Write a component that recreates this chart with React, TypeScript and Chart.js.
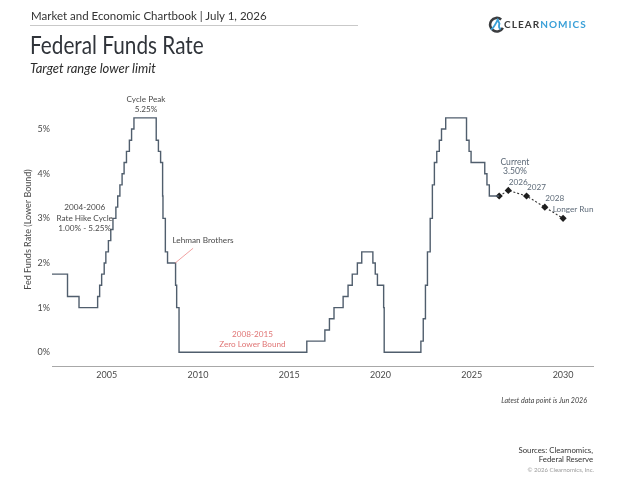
import React, { useEffect, useRef } from "react";
import { Chart, registerables } from "chart.js";

Chart.register(...registerables);

// ---------- Data ----------
// Fed funds target range lower bound: change dates (decimal years) and new levels (%)
const RATE_DATES = [
  2002.0, 2002.85, 2003.48, 2004.5, 2004.61, 2004.72, 2004.86, 2004.95, 2005.09, 2005.22,
  2005.34, 2005.5, 2005.6, 2005.72, 2005.84, 2005.95, 2006.08, 2006.24, 2006.36, 2006.49,
  2007.71, 2007.83, 2007.95, 2008.06, 2008.08, 2008.21, 2008.33, 2008.77, 2008.83, 2008.96,
  2015.96, 2016.95, 2017.2, 2017.45, 2017.95, 2018.22, 2018.45, 2018.73, 2018.97, 2019.58,
  2019.71, 2019.83, 2020.17, 2020.2, 2022.21, 2022.34, 2022.46, 2022.57, 2022.72, 2022.84,
  2022.95, 2023.08, 2023.22, 2023.34, 2023.57, 2024.71, 2024.85, 2024.96, 2025.71, 2025.83,
  2025.96, 2026.5,
];
const RATE_VALUES = [
  1.75, 1.25, 1.0, 1.25, 1.5, 1.75, 2.0, 2.25, 2.5, 2.75,
  3.0, 3.25, 3.5, 3.75, 4.0, 4.25, 4.5, 4.75, 5.0, 5.25,
  4.75, 4.5, 4.25, 3.5, 3.0, 2.25, 2.0, 1.5, 1.0, 0.0,
  0.25, 0.5, 0.75, 1.0, 1.25, 1.5, 1.75, 2.0, 2.25, 2.0,
  1.75, 1.5, 1.0, 0.0, 0.25, 0.75, 1.5, 2.25, 3.0, 3.75,
  4.25, 4.5, 4.75, 5.0, 5.25, 4.75, 4.5, 4.25, 4.0, 3.75,
  3.5, 3.5,
];
// Current level and projections
const PROJ_DATES = [2026.5, 2027.0, 2028.0, 2029.0, 2030.0];
const PROJ_VALUES = [3.5, 3.625, 3.5, 3.25, 3.0];
const PROJ_LABELS = ["", "2026", "2027", "2028", "Longer Run"];
const CURRENT_LABEL = ["Current", "3.50%"];

const X_TICKS = [2005, 2010, 2015, 2020, 2025, 2030];
const Y_TICKS = [0, 1, 2, 3, 4, 5];

// ---------- Styling ----------
const FONT = 'Lato, "Open Sans", sans-serif';
const LINE_COLOR = "#505e6d";
const TEXT_COLOR = "#4a4a4a";
const RED_TEXT = "#e07575";

type Note = { x: number; ys: number[]; lines: string[]; color: string; align: CanvasTextAlign };
const NOTES: Note[] = [
  { x: 2007.15, ys: [5.67, 5.44], lines: ["Cycle Peak", "5.25%"], color: TEXT_COLOR, align: "center" },
  { x: 2003.79, ys: [3.25, 3.01, 2.78], lines: ["2004-2006", "Rate Hike Cycle", "1.00% - 5.25%"], color: TEXT_COLOR, align: "center" },
  { x: 2008.6, ys: [2.515], lines: ["Lehman Brothers"], color: TEXT_COLOR, align: "left" },
  { x: 2012.98, ys: [0.41, 0.18], lines: ["2008-2015", "Zero Lower Bound"], color: RED_TEXT, align: "center" },
];

const notesPlugin = {
  id: "notes",
  afterDatasetsDraw(chart: any) {
    const { ctx, scales } = chart;
    const xs = scales.x;
    const ys = scales.y;
    ctx.save();
    ctx.textBaseline = "middle";
    ctx.font = `8.2px ${FONT}`;
    for (const n of NOTES) {
      ctx.fillStyle = n.color;
      ctx.textAlign = n.align;
      n.lines.forEach((t, i) => {
        ctx.fillText(t, xs.getPixelForValue(n.x), ys.getPixelForValue(n.ys[i]));
      });
    }
    // Lehman leader line
    ctx.strokeStyle = "#ee8a8a";
    ctx.lineWidth = 0.8;
    ctx.beginPath();
    ctx.moveTo(xs.getPixelForValue(2008.75), ys.getPixelForValue(2.0));
    ctx.lineTo(xs.getPixelForValue(2009.73), ys.getPixelForValue(2.33));
    ctx.stroke();
    // Projection labels
    ctx.fillStyle = "#5d6a78";
    ctx.textAlign = "center";
    PROJ_LABELS.forEach((t, i) => {
      if (!t) return;
      const px = xs.getPixelForValue(PROJ_DATES[i]);
      const py = ys.getPixelForValue(PROJ_VALUES[i]);
      ctx.fillText(t, px + 10, py - 8.5);
    });
    const cx = xs.getPixelForValue(PROJ_DATES[0]);
    const cy = ys.getPixelForValue(PROJ_VALUES[0]);
    ctx.font = `8.6px ${FONT}`;
    ctx.fillText(CURRENT_LABEL[0], cx + 15.7, cy - 34);
    ctx.fillText(CURRENT_LABEL[1], cx + 15.7, cy - 25);
    ctx.restore();
  },
};

function ChartCanvas() {
  const ref = useRef<HTMLCanvasElement | null>(null);
  useEffect(() => {
    if (!ref.current) return;
    const chart = new Chart(ref.current, {
      type: "line",
      data: {
        datasets: [
          {
            data: RATE_DATES.map((x, i) => ({ x, y: RATE_VALUES[i] })),
            stepped: "before",
            borderColor: LINE_COLOR,
            borderWidth: 1.4,
            pointRadius: 0,
            fill: false,
          },
          {
            data: PROJ_DATES.map((x, i) => ({ x, y: PROJ_VALUES[i] })),
            borderColor: "#333",
            borderWidth: 1.1,
            borderDash: [2, 2],
            pointStyle: "rectRot",
            pointRadius: 3.6,
            pointBackgroundColor: "#1e1e1e",
            pointBorderColor: "#1e1e1e",
            pointBorderWidth: 0,
            fill: false,
          },
        ],
      } as any,
      options: {
        responsive: false,
        animation: false,
        events: [],
        layout: { padding: { top: 93, right: 31, bottom: 0, left: 0 } },
        plugins: { legend: { display: false }, tooltip: { enabled: false } },
        scales: {
          x: {
            type: "linear",
            min: 2002,
            max: 2031.64,
            grid: { display: false, drawTicks: false },
            border: { display: true, color: "#a8a8a8", width: 1 },
            ticks: {
              color: TEXT_COLOR,
              font: { family: FONT, size: 9 },
              padding: 4,
              maxRotation: 0,
              callback: (v: any) => String(v),
            },
            afterBuildTicks: (s: any) => {
              s.ticks = X_TICKS.map((v) => ({ value: v }));
            },
            afterFit: (s: any) => {
              s.height = 114;
            },
          },
          y: {
            type: "linear",
            min: -0.307,
            max: 5.807,
            grid: { display: false, drawTicks: false },
            border: { display: false },
            ticks: {
              color: TEXT_COLOR,
              font: { family: FONT, size: 9 },
              padding: 2,
              callback: (v: any) => `${v}%`,
            },
            afterBuildTicks: (s: any) => {
              s.ticks = Y_TICKS.map((v) => ({ value: v }));
            },
            title: {
              display: true,
              text: "Fed Funds Rate (Lower Bound)",
              color: TEXT_COLOR,
              font: { family: FONT, size: 9 },
              padding: { top: 22.5, bottom: 0 },
            },
            afterFit: (s: any) => {
              s.width = 52;
            },
          },
        },
      } as any,
      plugins: [notesPlugin],
    });
    return () => chart.destroy();
  }, []);
  return (
    <canvas
      ref={ref}
      width={624}
      height={480}
      style={{ position: "absolute", left: 0, top: 0, width: 624, height: 480 }}
    />
  );
}

function Txt(props: {
  cy: number;
  size: number;
  left?: number;
  right?: number;
  color?: string;
  italic?: boolean;
  weight?: number;
  sx?: number;
  children: React.ReactNode;
}) {
  const lh = Math.ceil(props.size * 1.3);
  const style: React.CSSProperties = {
    position: "absolute",
    top: props.cy - lh / 2 - props.size * 0.08,
    height: lh,
    lineHeight: `${lh}px`,
    fontSize: props.size,
    fontFamily: FONT,
    color: props.color || "#333",
    fontStyle: props.italic ? "italic" : "normal",
    fontWeight: props.weight || 400,
    whiteSpace: "nowrap",
  };
  if (props.sx) {
    style.transform = `scaleX(${props.sx})`;
    style.transformOrigin = "left center";
  }
  if (props.left !== undefined) style.left = props.left;
  if (props.right !== undefined) {
    style.right = props.right;
    style.textAlign = "right";
  }
  return <div style={style}>{props.children}</div>;
}

export default function App() {
  return (
    <div
      style={{
        position: "absolute",
        left: 0,
        top: 0,
        width: 624,
        height: 480,
        background: "#fff",
        overflow: "hidden",
      }}
    >
      <ChartCanvas />
      <Txt cy={16} size={11.5} left={31} color="#333">
        Market and Economic Chartbook | July 1, 2026
      </Txt>
      <div style={{ position: "absolute", left: 30, top: 25, width: 328, height: 1, background: "#c9c9c9" }} />
      <Txt cy={46} size={25} left={30} color="#30343a" sx={0.83}>
        Federal Funds Rate
      </Txt>
      <Txt cy={70} size={13} left={30} color="#2b2b2b" italic>
        Target range lower limit
      </Txt>
      <svg
        style={{ position: "absolute", left: 488, top: 16 }}
        width={17}
        height={17}
        viewBox="0 0 20 20"
      >
        <path d="M15.5 4 A8 8 0 1 0 17.5 14" fill="none" stroke="#3b3d40" strokeWidth={3} />
        <path d="M3.5 16 C7 14 9 9 11.5 4.5 L13.5 9 C12.5 11.5 12.5 14 15 15.5" fill="none" stroke="#3aa0d8" strokeWidth={2.2} />
      </svg>
      <Txt cy={25.5} size={10} left={504} weight={700} color="#3a3a3a">
        <span style={{ letterSpacing: 1.05 }}>
          CLEAR<span style={{ color: "#3aa0d8" }}>NOMICS</span>
        </span>
      </Txt>
      <Txt cy={401.3} size={7.1} right={37} color="#444" italic>
        Latest data point is Jun 2026
      </Txt>
      <Txt cy={451.3} size={7.8} right={31} color="#333">
        Sources: Clearnomics,
      </Txt>
      <Txt cy={460.3} size={7.8} right={31} color="#333">
        Federal Reserve
      </Txt>
      <Txt cy={470} size={6} right={30} color="#9a9a9a">
        © 2026 Clearnomics, Inc.
      </Txt>
    </div>
  );
}
